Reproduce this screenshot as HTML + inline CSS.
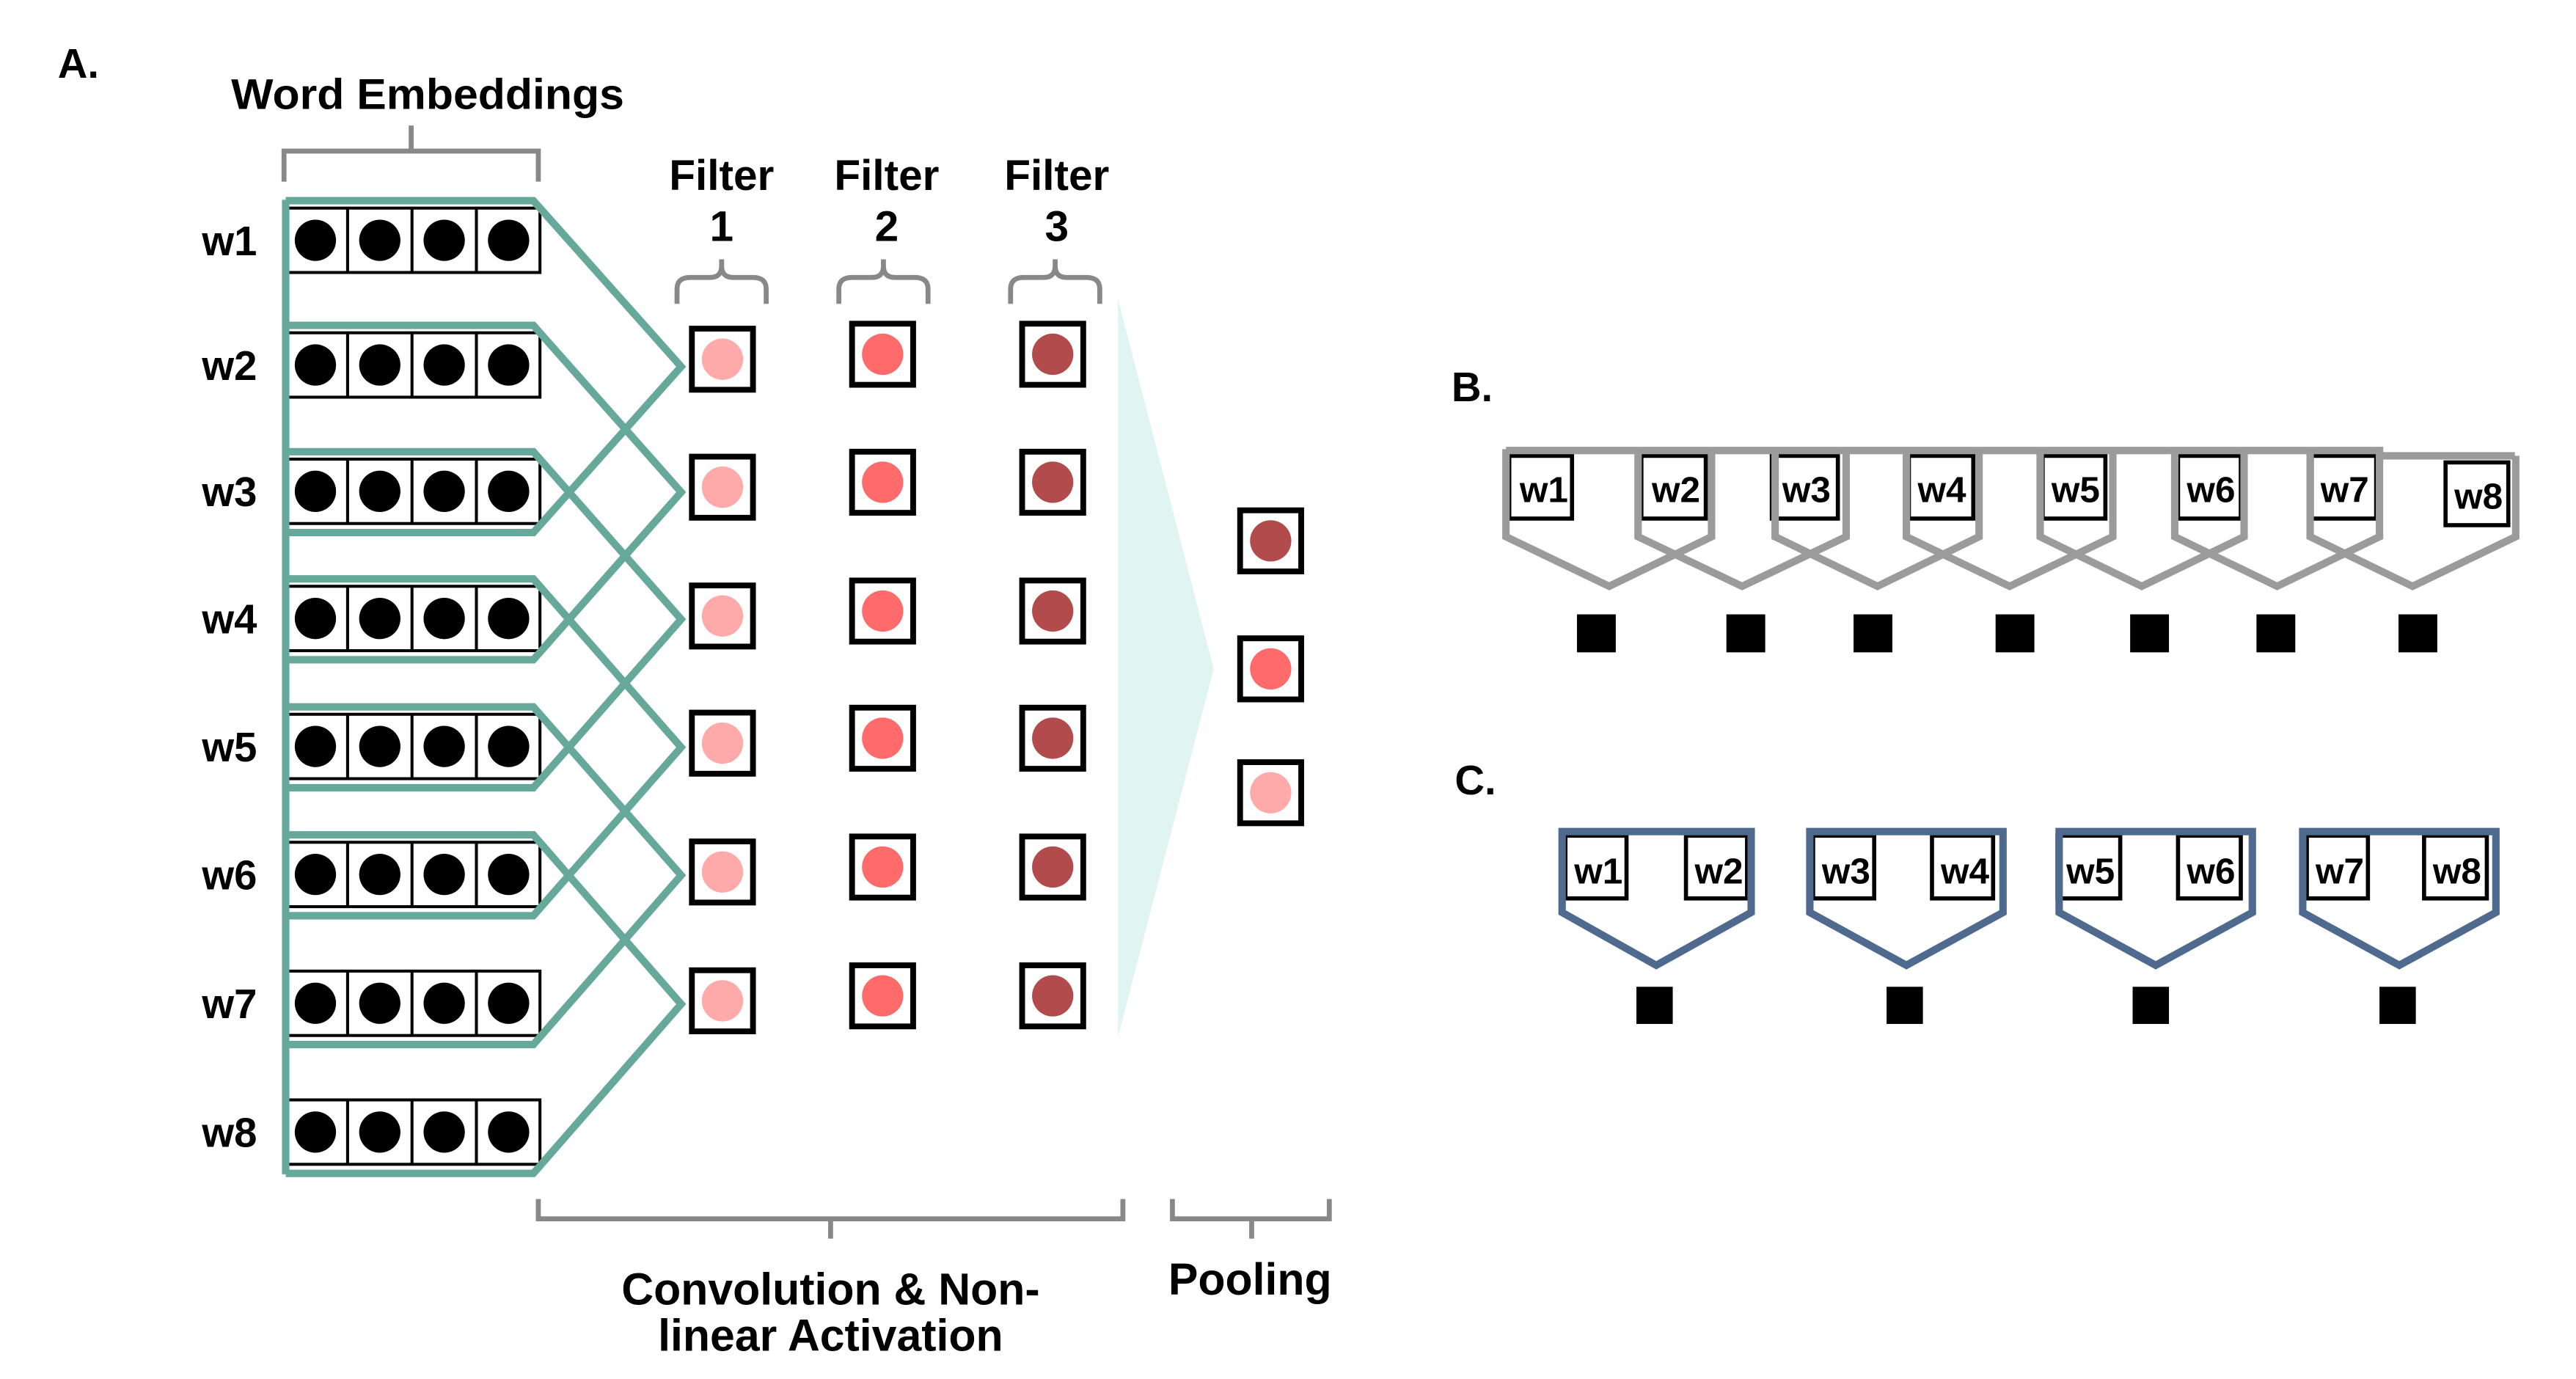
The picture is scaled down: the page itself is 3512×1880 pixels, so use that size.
<!DOCTYPE html>
<html><head><meta charset="utf-8"><style>
html,body{margin:0;padding:0;background:#fff;}
svg{display:block;}
text{font-family:"Liberation Sans",Arial,sans-serif;font-weight:bold;fill:#000;}
</style></head><body>
<svg width="3512" height="1880" viewBox="0 0 1560 835" preserveAspectRatio="none" xmlns="http://www.w3.org/2000/svg">
<rect width="1560" height="835" fill="#fff"/>
<!-- Panel A -->
<text x="35" y="47" font-size="25">A.</text>
<text x="140" y="66" font-size="26" textLength="238" lengthAdjust="spacingAndGlyphs">Word Embeddings</text>
<path d="M172,110 V91.5 H326 V110 M249,91.5 V76" fill="none" stroke="#888" stroke-width="3"/>

<g font-size="25" text-anchor="middle">
<text x="139" y="154.5">w1</text><text x="139" y="230">w2</text><text x="139" y="306.5">w3</text><text x="139" y="383.5">w4</text>
<text x="139" y="461">w5</text><text x="139" y="538.5">w6</text><text x="139" y="616.5">w7</text><text x="139" y="694.5">w8</text>
</g>

<g id="rows" stroke="#000" stroke-width="1.8" fill="#fff">
<rect x="172" y="126" width="155" height="39"/>
<rect x="172" y="201.5" width="155" height="39"/>
<rect x="172" y="278" width="155" height="39"/>
<rect x="172" y="355" width="155" height="39"/>
<rect x="172" y="432.5" width="155" height="39"/>
<rect x="172" y="510" width="155" height="39"/>
<rect x="172" y="588" width="155" height="39"/>
<rect x="172" y="666" width="155" height="39"/>
<path d="M210.5,126V165M249.5,126V165M288.5,126V165 M210.5,201.5V240.5M249.5,201.5V240.5M288.5,201.5V240.5 M210.5,278V317M249.5,278V317M288.5,278V317 M210.5,355V394M249.5,355V394M288.5,355V394 M210.5,432.5V471.5M249.5,432.5V471.5M288.5,432.5V471.5 M210.5,510V549M249.5,510V549M288.5,510V549 M210.5,588V627M249.5,588V627M288.5,588V627 M210.5,666V705M249.5,666V705M288.5,666V705"/>
</g>
<g fill="#000">
<circle cx="191" cy="145.5" r="12.5"/><circle cx="230" cy="145.5" r="12.5"/><circle cx="269" cy="145.5" r="12.5"/><circle cx="308" cy="145.5" r="12.5"/>
<circle cx="191" cy="221" r="12.5"/><circle cx="230" cy="221" r="12.5"/><circle cx="269" cy="221" r="12.5"/><circle cx="308" cy="221" r="12.5"/>
<circle cx="191" cy="297.5" r="12.5"/><circle cx="230" cy="297.5" r="12.5"/><circle cx="269" cy="297.5" r="12.5"/><circle cx="308" cy="297.5" r="12.5"/>
<circle cx="191" cy="374.5" r="12.5"/><circle cx="230" cy="374.5" r="12.5"/><circle cx="269" cy="374.5" r="12.5"/><circle cx="308" cy="374.5" r="12.5"/>
<circle cx="191" cy="452" r="12.5"/><circle cx="230" cy="452" r="12.5"/><circle cx="269" cy="452" r="12.5"/><circle cx="308" cy="452" r="12.5"/>
<circle cx="191" cy="529.5" r="12.5"/><circle cx="230" cy="529.5" r="12.5"/><circle cx="269" cy="529.5" r="12.5"/><circle cx="308" cy="529.5" r="12.5"/>
<circle cx="191" cy="607.5" r="12.5"/><circle cx="230" cy="607.5" r="12.5"/><circle cx="269" cy="607.5" r="12.5"/><circle cx="308" cy="607.5" r="12.5"/>
<circle cx="191" cy="685.5" r="12.5"/><circle cx="230" cy="685.5" r="12.5"/><circle cx="269" cy="685.5" r="12.5"/><circle cx="308" cy="685.5" r="12.5"/>
</g>

<g fill="none" stroke="#66A89A" stroke-width="4.5" stroke-linejoin="miter">
<path d="M173,121 V711"/>
<path d="M173,121.5 H323 L412.5,222 L323,322.5 H173"/>
<path d="M173,197 H323 L412.5,298 L323,399.5 H173"/>
<path d="M173,273.5 H323 L412.5,375 L323,477 H173"/>
<path d="M173,350.5 H323 L412.5,452.5 L323,554.5 H173"/>
<path d="M173,428 H323 L412.5,530 L323,632.5 H173"/>
<path d="M173,505.5 H323 L412.5,608 L323,710.5 H173"/>
</g>

<!-- filter labels -->
<g font-size="26" text-anchor="middle">
<text x="437" y="115">Filter</text><text x="437" y="146">1</text>
<text x="537" y="115">Filter</text><text x="537" y="146">2</text>
<text x="640" y="115">Filter</text><text x="640" y="146">3</text>
</g>
<g fill="none" stroke="#888" stroke-width="3">
<path d="M410,184 V175 Q410,168 418,168 H430 Q437,168 437,161 V157 M437,157 V161 Q437,168 444,168 H456 Q464,168 464,175 V184"/>
<path d="M508,184 V175 Q508,168 516,168 H528 Q535,168 535,161 V157 M535,157 V161 Q535,168 542,168 H554 Q562,168 562,175 V184"/>
<path d="M612,184 V175 Q612,168 620,168 H632 Q639,168 639,161 V157 M639,157 V161 Q639,168 646,168 H658 Q666,168 666,175 V184"/>
</g>

<!-- triangle -->
<polygon points="677,181 735,405 677,628" fill="#E0F4F2"/>

<!-- filter outputs -->
<g stroke="#000" stroke-width="3.5" fill="#fff">
<rect x="419" y="199" width="37" height="37"/><rect x="419" y="276.5" width="37" height="37"/><rect x="419" y="354.5" width="37" height="37"/>
<rect x="419" y="431.5" width="37" height="37"/><rect x="419" y="509.5" width="37" height="37"/><rect x="419" y="587.5" width="37" height="37"/>
<rect x="516" y="196" width="37" height="37"/><rect x="516" y="273.5" width="37" height="37"/><rect x="516" y="351.5" width="37" height="37"/>
<rect x="516" y="428.5" width="37" height="37"/><rect x="516" y="506.5" width="37" height="37"/><rect x="516" y="584.5" width="37" height="37"/>
<rect x="619" y="196" width="37" height="37"/><rect x="619" y="273.5" width="37" height="37"/><rect x="619" y="351.5" width="37" height="37"/>
<rect x="619" y="428.5" width="37" height="37"/><rect x="619" y="506.5" width="37" height="37"/><rect x="619" y="584.5" width="37" height="37"/>
<rect x="751" y="309" width="37" height="37"/><rect x="751" y="386.5" width="37" height="37"/><rect x="751" y="461.5" width="37" height="37"/>
</g>
<g fill="#FFAAAA">
<circle cx="437.5" cy="217.5" r="12.5"/><circle cx="437.5" cy="295" r="12.5"/><circle cx="437.5" cy="373" r="12.5"/>
<circle cx="437.5" cy="450" r="12.5"/><circle cx="437.5" cy="528" r="12.5"/><circle cx="437.5" cy="606" r="12.5"/>
<circle cx="769.5" cy="480" r="12.5"/>
</g>
<g fill="#FF6B6B">
<circle cx="534.5" cy="214.5" r="12.5"/><circle cx="534.5" cy="292" r="12.5"/><circle cx="534.5" cy="370" r="12.5"/>
<circle cx="534.5" cy="447" r="12.5"/><circle cx="534.5" cy="525" r="12.5"/><circle cx="534.5" cy="603" r="12.5"/>
<circle cx="769.5" cy="405" r="12.5"/>
</g>
<g fill="#B24C4C">
<circle cx="637.5" cy="214.5" r="12.5"/><circle cx="637.5" cy="292" r="12.5"/><circle cx="637.5" cy="370" r="12.5"/>
<circle cx="637.5" cy="447" r="12.5"/><circle cx="637.5" cy="525" r="12.5"/><circle cx="637.5" cy="603" r="12.5"/>
<circle cx="769.5" cy="327.5" r="12.5"/>
</g>

<!-- bottom brackets -->
<g fill="none" stroke="#888" stroke-width="3">
<path d="M326,726 V738 H680 V726 M503,738 V750"/>
<path d="M710,726 V738 H805 V726 M758,738 V750"/>
</g>
<g font-size="27" text-anchor="middle">
<text x="503" y="790">Convolution &amp; Non-</text>
<text x="503" y="818">linear Activation</text>
<text x="757" y="784">Pooling</text>
</g>

<!-- Panel B -->
<text x="879" y="243" font-size="25">B.</text>
<g stroke="#000" stroke-width="2.5" fill="#fff">
<rect x="914" y="276" width="38" height="38"/>
<rect x="994" y="276" width="39" height="38"/>
<rect x="1073" y="276" width="40" height="38"/>
<rect x="1156" y="276" width="39" height="38"/>
<rect x="1237" y="276" width="38" height="38"/>
<rect x="1319" y="276" width="38" height="38"/>
<rect x="1400" y="276" width="39" height="38"/>
<rect x="1481" y="280" width="38" height="38"/>
</g>
<g font-size="22" text-anchor="middle">
<text x="935" y="304">w1</text><text x="1015" y="304">w2</text><text x="1094" y="304">w3</text><text x="1176" y="304">w4</text>
<text x="1257" y="304">w5</text><text x="1339" y="304">w6</text><text x="1420" y="304">w7</text><text x="1501" y="308">w8</text>
</g>
<g fill="none" stroke="#9B9B9B" stroke-width="4.5">
<path d="M912,272.8 H1441 V276 H1523"/>
<path d="M912,272 V325 L974.5,355 L1036.5,325 V272"/>
<path d="M992,272 V325 L1055,355 L1118,325 V272"/>
<path d="M1075,272 V325 L1137,355 L1198.5,325 V272"/>
<path d="M1154.5,272 V325 L1217,355 L1279.5,325 V272"/>
<path d="M1235.5,272 V325 L1297,355 L1359,325 V272"/>
<path d="M1317,272 V325 L1379,355 L1441,325 V272"/>
<path d="M1399,272 V325 L1461,355 L1523.5,325 V276"/>
</g>
<g fill="#000">
<rect x="955" y="372" width="23.5" height="23"/>
<rect x="1045.5" y="372" width="23.5" height="23"/>
<rect x="1122.5" y="372" width="23.5" height="23"/>
<rect x="1208.5" y="372" width="23.5" height="23"/>
<rect x="1290" y="372" width="23.5" height="23"/>
<rect x="1366.5" y="372" width="23.5" height="23"/>
<rect x="1452.5" y="372" width="23.5" height="23"/>
</g>

<!-- Panel C -->
<text x="881" y="481" font-size="25">C.</text>
<g stroke="#000" stroke-width="2.5" fill="#fff">
<rect x="948" y="506" width="37" height="38"/><rect x="1021" y="506" width="37" height="38"/>
<rect x="1098" y="506" width="37" height="38"/><rect x="1170" y="506" width="37" height="38"/>
<rect x="1246" y="506" width="38" height="38"/><rect x="1319" y="506" width="38" height="38"/>
<rect x="1397" y="506" width="37" height="38"/><rect x="1468" y="506" width="38" height="38"/>
</g>
<g font-size="22" text-anchor="middle">
<text x="968" y="535">w1</text><text x="1041" y="535">w2</text><text x="1118" y="535">w3</text><text x="1190" y="535">w4</text>
<text x="1266" y="535">w5</text><text x="1339" y="535">w6</text><text x="1417" y="535">w7</text><text x="1488" y="535">w8</text>
</g>
<g fill="none" stroke="#4F6A8F" stroke-width="4.5">
<path d="M946,503.5 H1060.5 V552.5 L1003,584.5 L946,552.5 Z"/>
<path d="M1096,503.5 H1213 V552.5 L1154.5,584.5 L1096,552.5 Z"/>
<path d="M1247,503.5 H1364 V552.5 L1305.5,584.5 L1247,552.5 Z"/>
<path d="M1394.5,503.5 H1511.5 V552.5 L1453,584.5 L1394.5,552.5 Z"/>
</g>
<g fill="#000">
<rect x="991" y="597.5" width="22" height="22.5"/>
<rect x="1142.5" y="597.5" width="22" height="22.5"/>
<rect x="1291.5" y="597.5" width="22" height="22.5"/>
<rect x="1441" y="597.5" width="22" height="22.5"/>
</g>
</svg>
</body></html>
